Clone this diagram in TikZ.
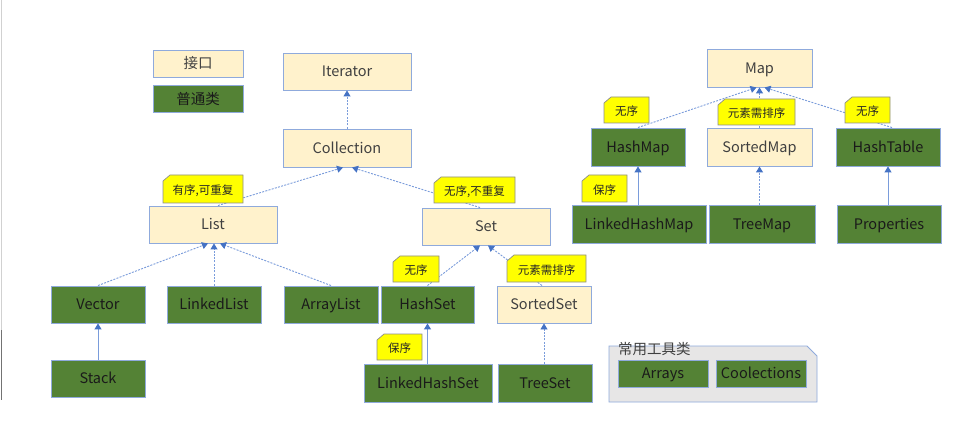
\documentclass[tikz,border=0pt]{standalone}
\usepackage{fontspec}
\setmainfont{Noto Sans CJK SC}
\usetikzlibrary{arrows.meta,calc}
\definecolor{cream}{HTML}{FFF2CC}
\definecolor{darkgreen}{HTML}{548235}
\definecolor{boxborder}{HTML}{8FAADC}
\definecolor{linecol}{HTML}{7A9CDB}
\definecolor{tipcol}{HTML}{4472C4}
\definecolor{tagyellow}{HTML}{FFFF00}
\definecolor{tagborder}{HTML}{8C8C8C}
\definecolor{groupfill}{HTML}{E7E6E6}
\definecolor{ifacetext}{HTML}{404040}
\definecolor{clstext}{HTML}{1A1A1A}
\newcommand{\boxfont}{\fontsize{14.5}{17}\selectfont}
\newcommand{\tagfont}{\fontsize{11.5}{13}\selectfont}
\newcommand{\ytag}[6]{%
  \filldraw[tagshape] (#2-#4/2,#3-#5/2+6) -- (#2-#4/2+7,#3-#5/2) -- (#2+#4/2,#3-#5/2) -- (#2+#4/2,#3+#5/2) -- (#2-#4/2,#3+#5/2) -- cycle;
  \node[tagtext] (#1) at (#2,#3+1.5) {#6};%
}
\tikzset{
  box/.style={draw=boxborder, line width=0.9pt, inner sep=0pt, font=\boxfont, text height=10.5pt, text depth=0pt},
  iface/.style={box, fill=cream, text=ifacetext},
  cls/.style={box, fill=darkgreen, text=clstext},
  sz/.style 2 args={minimum width=#1pt, minimum height=#2pt},
  tagshape/.style={fill=tagyellow, draw=tagborder, line width=0.7pt},
  tagtext/.style={inner sep=0pt, font=\tagfont, text=black!85},
  impl/.style={draw=linecol, line width=0.9pt, dash pattern=on 2pt off 1.3pt, -{Triangle[width=7pt,length=6pt,fill=tipcol,color=tipcol]}},
  ext/.style={draw=linecol, line width=1pt, -{Triangle[width=7pt,length=6pt,fill=tipcol,color=tipcol]}},
  groupshape/.style={fill=groupfill, draw=boxborder, line width=0.9pt},
}
\begin{document}
\begin{tikzpicture}[x=1pt,y=-1pt]
\useasboundingbox (0,0) rectangle (971,430);
\fill[white] (0,0) rectangle (971,430);
\draw[black!18, line width=1pt] (1,0) -- (1,330);
\draw[black!55, line width=1pt] (1,330) -- (1,400);

% legend
\node[iface, sz={90}{27}] (legI) at (198,63.5) {接口};
\node[cls, sz={90}{27}] (legC) at (198,99) {普通类};

% collection hierarchy
\node[iface, sz={128}{37}] (Iterator) at (347,71.5) {Iterator};
\node[iface, sz={128}{38}] (Collection) at (347,148) {Collection};
\node[iface, sz={128}{37}] (List) at (213,224.5) {List};
\node[iface, sz={128}{37}] (Set) at (486,226.5) {Set};
\node[cls, sz={94}{37}] (Vector) at (98,304.5) {Vector};
\node[cls, sz={94}{37}] (LinkedList) at (214,304.5) {LinkedList};
\node[cls, sz={94}{37}] (ArrayList) at (331,304.5) {ArrayList};
\node[cls, sz={94}{37}] (Stack) at (98,378.5) {Stack};
\node[cls, sz={93}{37}] (HashSet) at (427.5,304.5) {HashSet};
\node[iface, sz={94}{37}] (SortedSet) at (544,304.5) {SortedSet};
\node[cls, sz={128}{38}] (LinkedHashSet) at (428,383) {LinkedHashSet};
\node[cls, sz={94}{38}] (TreeSet) at (545,383) {TreeSet};

% map hierarchy
\node[iface, sz={105}{38}] (Map) at (759.5,68) {Map};
\node[cls, sz={94}{38}] (HashMap) at (638,147) {HashMap};
\node[iface, sz={105}{38}] (SortedMap) at (759.5,147) {SortedMap};
\node[cls, sz={104}{38}] (HashTable) at (888,147) {HashTable};
\node[cls, sz={134}{38}] (LinkedHashMap) at (639,224) {LinkedHashMap};
\node[cls, sz={106}{38}] (TreeMap) at (762,224) {TreeMap};
\node[cls, sz={104}{38}] (Properties) at (889,224) {Properties};

% tools group
\filldraw[groupshape] (609,346) -- (807,346) -- (817,356) -- (817,402) -- (609,402) -- cycle;
\node[inner sep=0pt, anchor=west, font=\boxfont, text=ifacetext] (tools) at (618,349) {常用工具类};
\node[cls, sz={90}{27}] (Arrays) at (663,373.5) {Arrays};
\node[cls, sz={90}{27}] (Coolections) at (761,373.5) {Coolections};

% connectors
\draw[impl] (Collection.north) -- (Iterator.south);
\draw[impl] ($(List.north)+(5,0)$) -- ($(Collection.south)+(-4,0)$);
\draw[impl] ($(Set.north)+(-6,0)$) -- ($(Collection.south)+(5,0)$);
\draw[impl] (Vector.north) -- ($(List.south)+(-5,0)$);
\draw[impl] (LinkedList.north) -- ($(List.south)+(1,0)$);
\draw[impl] (ArrayList.north) -- ($(List.south)+(7,0)$);
\draw[ext] (Stack.north) -- (Vector.south);
\draw[impl] (HashSet.north) -- ($(Set.south)+(-6,0)$);
\draw[impl] ($(SortedSet.north)+(-2,0)$) -- ($(Set.south)+(2,0)$);
\draw[ext] (HashSet.south |- LinkedHashSet.north) -- (HashSet.south);
\draw[impl] (SortedSet.south |- TreeSet.north) -- (SortedSet.south);
\draw[impl] (HashMap.north) -- ($(Map.south)+(-3,0)$);
\draw[impl] (SortedMap.north) -- (Map.south);
\draw[impl] ($(HashTable.north)+(4,0)$) -- ($(Map.south)+(5,0)$);
\draw[ext] (HashMap.south |- LinkedHashMap.north) -- (HashMap.south);
\draw[impl] (SortedMap.south |- TreeMap.north) -- (SortedMap.south);
\draw[ext] (HashTable.south |- Properties.north) -- (HashTable.south);

% yellow tags
\ytag{tagList}{203}{189}{80}{28}{有序,可重复}
\ytag{tagSet}{474.5}{190}{81}{26}{无序,不重复}
\ytag{tagHashSet}{416}{269}{46}{26}{无序}
\ytag{tagSortedSet}{546.5}{268.5}{79}{27}{元素需排序}
\ytag{tagLHS}{399.5}{347}{45}{26}{保序}
\ytag{tagHashMap}{626.5}{110}{45}{26}{无序}
\ytag{tagSortedMap}{756.5}{112}{77}{26}{元素需排序}
\ytag{tagHashTable}{867.5}{110}{45}{26}{无序}
\ytag{tagLHM}{604.5}{188.5}{45}{27}{保序}
\end{tikzpicture}
\end{document}
